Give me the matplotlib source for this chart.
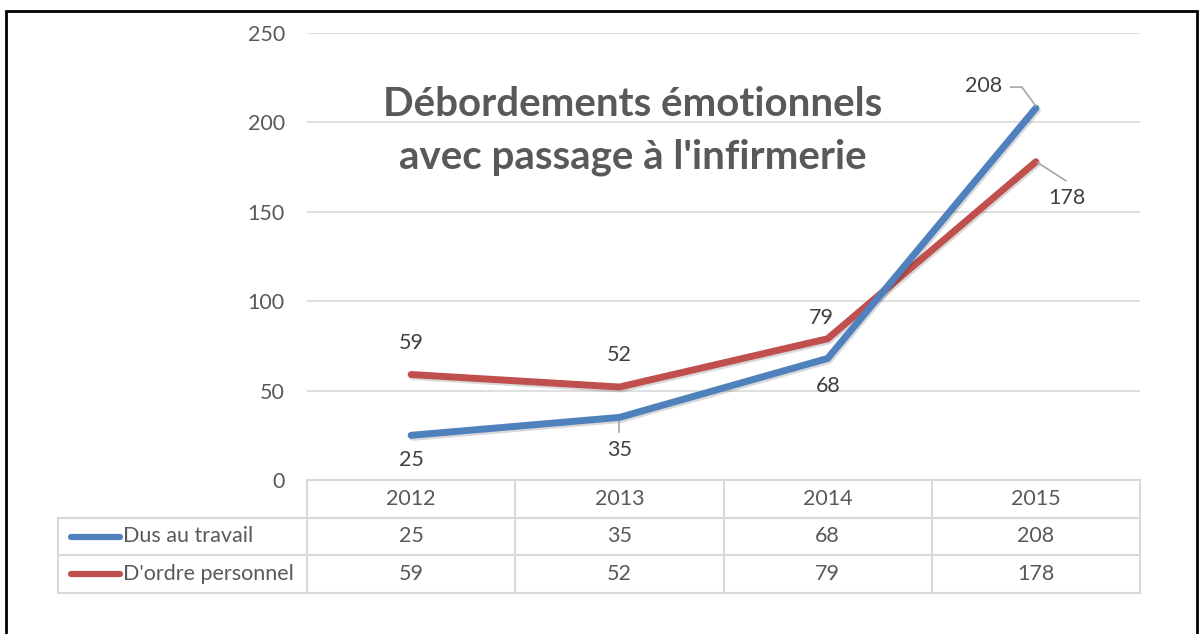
import matplotlib.pyplot as plt
import matplotlib.patheffects as pe
from matplotlib.patches import Rectangle
from matplotlib.lines import Line2D

plt.rcParams["font.family"] = ["Lato", "DejaVu Sans"]

# data
years = ["2012", "2013", "2014", "2015"]
travail = [25, 35, 68, 208]
personnel = [59, 52, 79, 178]
series_names = ["Dus au travail", "D'ordre personnel"]
yticks = [0, 50, 100, 150, 200, 250]

blue = "#4f81bd"
red = "#c0504d"
grid_c = "#d9d9d9"
txt_c = "#595959"
lbl_c = "#404040"
lead_c = "#a6a6a6"
fs = 15.5

W, H = 1199, 634
fig = plt.figure(figsize=(W / 100, H / 100), dpi=100)


def fx(px):
    return px / W


def fy(py):
    return 1 - py / H


# outer frame
fig.patches.append(Rectangle((fx(6), fy(640)), fx(1191), fy(11) - fy(640),
                             transform=fig.transFigure, fill=False,
                             edgecolor="black", linewidth=2))

ax = fig.add_axes([fx(307), fy(480), fx(1140) - fx(307), fy(33) - fy(480)])
x = list(range(len(years)))
ax.set_xlim(-0.5, 3.5)
ax.set_ylim(0, 250)
ax.set_yticks(yticks)
ax.set_xticks([])
for s in ax.spines.values():
    s.set_visible(False)
ax.grid(axis="y", color=grid_c, linewidth=1.2)
ax.set_axisbelow(True)
ax.tick_params(axis="y", length=0, pad=16, labelsize=fs, labelcolor=txt_c)

shadow = [pe.SimpleLineShadow(offset=(1, -1.5), alpha=0.15, shadow_color="black"),
          pe.Normal()]
ax.plot(x, personnel, color=red, lw=5, solid_capstyle="round",
        solid_joinstyle="round", path_effects=shadow, zorder=3)
ax.plot(x, travail, color=blue, lw=5, solid_capstyle="round",
        solid_joinstyle="round", path_effects=shadow, zorder=4)

# data labels (offsets in pixels)
lab_kw = dict(textcoords="offset pixels", ha="center", va="center",
              fontsize=fs, color=lbl_c)
t_off = [(0, -25), (0, -33), (1, -28), (-52, 22)]
p_off = [(0, 32), (0, 32), (-6, 21), (31, -36)]
for i, v in enumerate(travail):
    ax.annotate(str(v), (x[i], v), xytext=t_off[i], **lab_kw)
for i, v in enumerate(personnel):
    ax.annotate(str(v), (x[i], v), xytext=p_off[i], **lab_kw)


# leader lines, drawn in pixel offsets from the data point
def leader(xv, yv, offs):
    px, py = ax.transData.transform((xv, yv))
    pts = [fig.transFigure.inverted().transform((px + dx, py + dy)) for dx, dy in offs]
    fig.add_artist(Line2D([p[0] for p in pts], [p[1] for p in pts],
                          transform=fig.transFigure, color=lead_c, lw=1.2, zorder=2))


leader(x[1], travail[1], [(0, -5), (0, -15)])
leader(x[3], travail[3], [(-25, 21), (-14, 21), (0, 2)])
leader(x[3], personnel[3], [(2, -1), (30, -19)])

# title
fig.text(fx(633), fy(105), "Débordements émotionnels", ha="center", va="center",
         fontsize=29, fontweight="bold", color=txt_c)
fig.text(fx(633), fy(157), "avec passage à l'infirmerie", ha="center", va="center",
         fontsize=29, fontweight="bold", color=txt_c)

# data table
tax = fig.add_axes([fx(58), fy(593), fx(1140) - fx(58), fy(480) - fy(593)])
unit = (1140 - 307) / 4
left = -0.5 - (307 - 58) / unit
tax.set_xlim(left, 3.5)
tax.set_ylim(3, 0)
tax.axis("off")
lc = dict(color=grid_c, lw=1.5, clip_on=False)
tax.plot([-0.5, 3.5], [0, 0], **lc)
for r in [1, 2, 3]:
    tax.plot([left, 3.5], [r, r], **lc)
tax.plot([left, left], [1, 3], **lc)
for c in [-0.5, 0.5, 1.5, 2.5, 3.5]:
    tax.plot([c, c], [0, 3], **lc)
for i, yr in enumerate(years):
    tax.text(i, 0.5, yr, ha="center", va="center", fontsize=fs, color=txt_c)
    tax.text(i, 1.5, str(travail[i]), ha="center", va="center", fontsize=fs, color=txt_c)
    tax.text(i, 2.5, str(personnel[i]), ha="center", va="center", fontsize=fs, color=txt_c)
k0 = left + 13 / unit
k1 = left + 62 / unit
for r, (name, col) in enumerate(zip(series_names, [blue, red])):
    tax.add_line(Line2D([k0, k1], [1.5 + r, 1.5 + r], color=col, lw=4.5,
                        solid_capstyle="round"))
    tax.text(k1 + 3 / unit, 1.5 + r, name, ha="left", va="center",
             fontsize=fs, color=txt_c)

fig.savefig("out.png", dpi=100)
